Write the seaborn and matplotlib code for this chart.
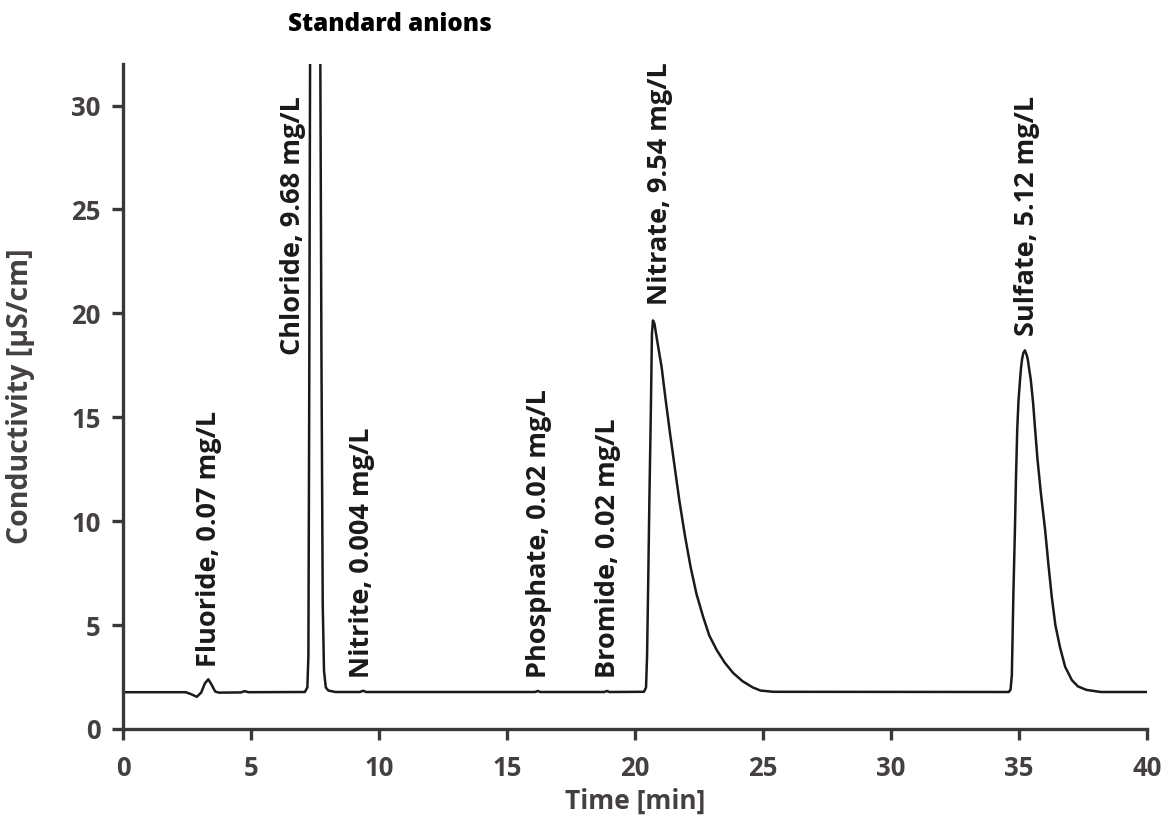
import matplotlib
matplotlib.use("Agg")
import matplotlib.pyplot as plt
import seaborn as sns
import pandas as pd

# Chromatogram points (time [min], conductivity [uS/cm])
time_min = [0.0, 2.45, 2.65, 2.88, 3.05, 3.2, 3.33, 3.45, 3.6, 3.75, 4.6, 4.75, 4.9,
            7.1, 7.2, 7.24, 7.27, 7.31, 7.5, 7.7, 7.75, 7.8, 7.85, 7.92, 8.02, 8.3,
            9.25, 9.38, 9.5, 16.1, 16.2, 16.3, 18.8, 18.9, 19.0,
            20.35, 20.43, 20.47, 20.52, 20.56, 20.62, 20.66, 20.70, 20.76, 20.85, 21.04,
            21.2, 21.37, 21.55, 21.73, 21.95, 22.17, 22.4, 22.66, 22.9, 23.19, 23.5,
            23.83, 24.2, 24.6, 24.9, 25.4,
            34.6, 34.67, 34.72, 34.78, 34.84, 34.88, 34.93, 34.98, 35.04, 35.08, 35.12,
            35.17, 35.23, 35.3, 35.34, 35.4, 35.46, 35.55, 35.63, 35.72, 35.85, 36.02,
            36.15, 36.28, 36.42, 36.6, 36.8, 37.06, 37.3, 37.64, 38.2, 40.0]
conductivity = [1.77, 1.77, 1.68, 1.55, 1.75, 2.2, 2.39, 2.15, 1.8, 1.75, 1.76, 1.82, 1.77,
                1.78, 2.0, 3.5, 15.0, 34.0, 75.0, 34.0, 18.0, 6.0, 2.8, 2.0, 1.85, 1.78,
                1.78, 1.84, 1.78, 1.78, 1.83, 1.78, 1.78, 1.83, 1.78,
                1.79, 2.0, 3.5, 7.5, 11.0, 15.5, 19.0, 19.66, 19.5, 18.8, 17.4,
                15.8, 14.2, 12.6, 11.0, 9.3, 7.8, 6.5, 5.4, 4.5, 3.8, 3.2,
                2.7, 2.3, 2.0, 1.85, 1.79,
                1.78, 1.9, 2.6, 6.5, 9.57, 12.0, 14.4, 15.8, 16.8, 17.4, 17.8,
                18.1, 18.22, 18.0, 17.8, 17.3, 16.8, 15.7, 14.4, 13.0, 11.4, 9.57,
                7.9, 6.35, 5.0, 3.94, 3.0, 2.36, 2.05, 1.88, 1.78, 1.78]

# Peak annotations
peak_labels = ["Fluoride, 0.07 mg/L", "Chloride, 9.68 mg/L", "Nitrite, 0.004 mg/L",
               "Phosphate, 0.02 mg/L", "Bromide, 0.02 mg/L", "Nitrate, 9.54 mg/L",
               "Sulfate, 5.12 mg/L"]
label_x = [3.36, 6.62, 9.32, 16.25, 18.95, 20.98, 35.3]
label_y = [2.98, 18.0, 2.45, 2.45, 2.45, 20.4, 18.9]

x_ticks = [0, 5, 10, 15, 20, 25, 30, 35, 40]
y_ticks = [0, 5, 10, 15, 20, 25, 30]

sns.set_style("ticks")
plt.rcParams["font.family"] = ["Open Sans", "DejaVu Sans"]

df = pd.DataFrame({"Time": time_min, "Conductivity": conductivity})

fig = plt.figure(figsize=(11.62, 8.36), dpi=100)
ax = fig.add_axes([0.1059, 0.128, 0.8812, 0.7954])

sns.lineplot(data=df, x="Time", y="Conductivity", ax=ax, color="#1a1a1a",
             linewidth=1.8, estimator=None, sort=False)

ax.set_xlim(0, 40)
ax.set_ylim(0, 32)
ax.set_xticks(x_ticks)
ax.set_yticks(y_ticks)

spine_col = "#3d3838"
for s in ["top", "right"]:
    ax.spines[s].set_visible(False)
for s in ["left", "bottom"]:
    ax.spines[s].set_color(spine_col)
    ax.spines[s].set_linewidth(2.4)

ax.tick_params(axis="both", direction="out", length=8, width=2.4, color=spine_col,
               labelcolor="#454040", labelsize=18.5)
ax.tick_params(axis="x", pad=11)
ax.tick_params(axis="y", pad=8)
for lab in ax.get_xticklabels() + ax.get_yticklabels():
    lab.set_fontweight("bold")

ax.set_xlabel("Time [min]", fontsize=19, fontweight="bold", color="#454040", labelpad=4)
ax.set_ylabel("Conductivity [µS/cm]", fontsize=20.5, fontweight="bold", color="#454040",
              labelpad=26)

for txt, xx, yy in zip(peak_labels, label_x, label_y):
    ax.text(xx, yy, txt, rotation=90, ha="center", va="bottom", fontsize=19.5,
            fontweight="bold", color="#1a1a1a")

fig.text(0.2478, 0.971, "Standard anions", ha="left", va="center", fontsize=17.5,
         fontweight="heavy", color="black")

fig.savefig("out.png", dpi=100)
